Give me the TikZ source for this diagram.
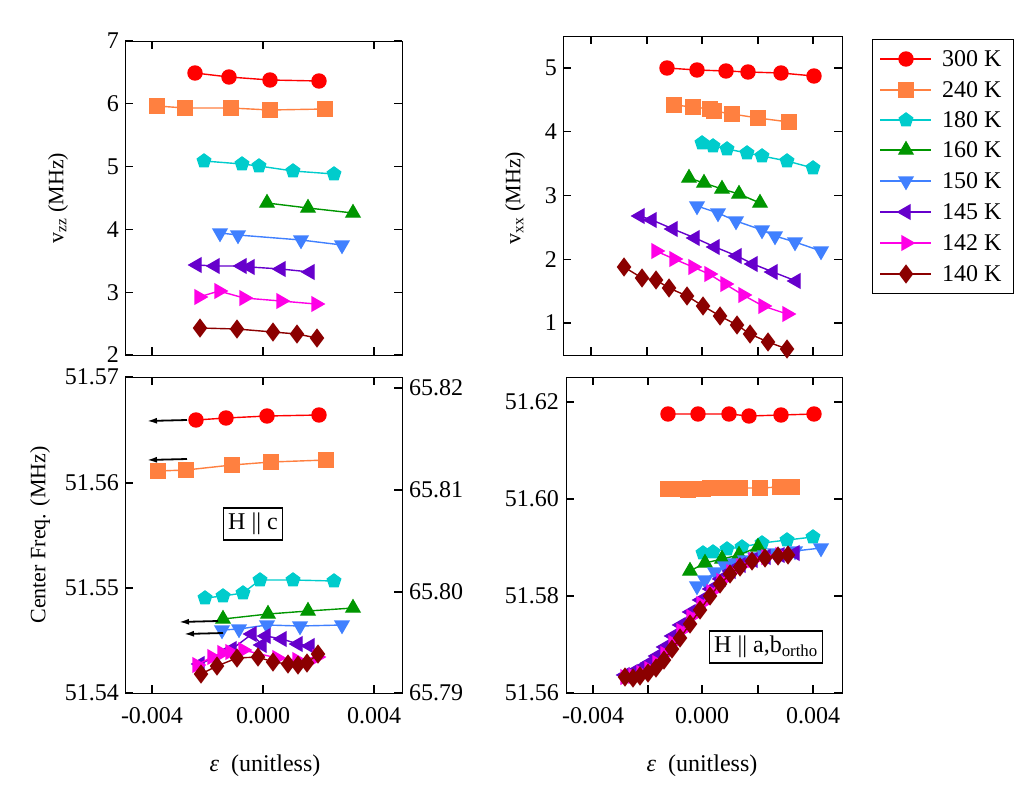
\documentclass[tikz,border=0pt]{standalone}
\usepackage{fontspec}
\setmainfont{Liberation Serif}
\usetikzlibrary{plotmarks,arrows.meta}
\definecolor{cA}{RGB}{255,0,0}
\definecolor{cB}{RGB}{255,128,64}
\definecolor{cC}{RGB}{0,204,204}
\definecolor{cD}{RGB}{0,150,0}
\definecolor{cE}{RGB}{64,128,255}
\definecolor{cF}{RGB}{102,0,204}
\definecolor{cG}{RGB}{255,0,230}
\definecolor{cH}{RGB}{139,0,0}
\tikzset{
 sA/.style={cA,line width=1.4pt,mark=*,mark size=7pt,mark options={solid}},
 sB/.style={cB,line width=1.4pt,mark=square*,mark size=7pt},
 sC/.style={cC,line width=1.4pt,mark=pentagon*,mark size=7pt},
 sD/.style={cD,line width=1.4pt,mark=triangle*,mark size=8pt},
 sE/.style={cE,line width=1.4pt,mark=triangle*,mark size=8pt,mark options={rotate=180}},
 sF/.style={cF,line width=1.4pt,mark=triangle*,mark size=8pt,mark options={rotate=90}},
 sG/.style={cG,line width=1.4pt,mark=triangle*,mark size=8pt,mark options={rotate=-90}},
 sH/.style={cH,line width=1.4pt,mark=diamond*,mark size=8.5pt},
 frame/.style={line width=1.4pt},
 tk/.style={line width=1.2pt},
 lbl/.style={font=\fontsize{24}{27}\selectfont,inner sep=0pt},
 albl/.style={font=\fontsize{22}{25}\selectfont,inner sep=0pt},
 arr/.style={-{Latex[length=10pt,width=6pt]},line width=1.8pt,black},
}
\begin{document}
\begin{tikzpicture}[x=1pt,y=-1pt]
\useasboundingbox (0,0) rectangle (1023,785);
% ---------- TL ----------
\node[frame,draw,minimum width=277pt,minimum height=314pt,inner sep=0pt,anchor=north west] (tl) at (125,41) {};
\foreach \v in {2,...,7}{\draw[tk] (125,{355-62.8*(\v-2)}) -- ++(8,0) (402,{355-62.8*(\v-2)}) -- ++(-8,0);
 \node[lbl,anchor=east] at (119,{355-62.8*(\v-2)}) {\v};}
\foreach \x in {152,263,374}{\draw[tk] (\x,355) -- ++(0,-8) (\x,41) -- ++(0,8);}
\node[albl,rotate=90] (ylt) at (58,198) {v\textsubscript{zz} (MHz)};
\draw[sA] plot coordinates {(195,73)(229,77)(270,80)(319,81)};
\draw[sB] plot coordinates {(157,106)(185,108)(231,108)(270,110)(325,109)};
\draw[sC] plot coordinates {(204,161)(242,164)(259,166)(293,171)(334,174)};
\draw[sD] plot coordinates {(267,203)(308,208)(353,213)};
\draw[sE] plot coordinates {(220,233)(238,235)(301,240)(342,245)};
\draw[sF] plot coordinates {(197,265)(215,266)(242,266)(250,267)(281,269)(310,272)};
\draw[sG] plot coordinates {(199,297)(219,291)(244,298)(281,301)(316,304)};
\draw[sH] plot coordinates {(200,328)(237,329)(273,332)(297,334)(317,338)};
% ---------- TR ----------
\node[frame,draw,minimum width=279pt,minimum height=319pt,inner sep=0pt,anchor=north west] (tr) at (563,36) {};
\foreach \v in {1,...,5}{\draw[tk] (563,{323-63.75*(\v-1)}) -- ++(8,0) (842,{323-63.75*(\v-1)}) -- ++(-8,0);
 \node[lbl,anchor=east] at (557,{323-63.75*(\v-1)}) {\v};}
\foreach \x in {591,647,702,758,813}{\draw[tk] (\x,355) -- ++(0,-8) (\x,36) -- ++(0,8);}
\node[albl,rotate=90] (yrt) at (515,198) {v\textsubscript{xx} (MHz)};
\draw[sA] plot coordinates {(667,68)(697,70)(726,71)(748,72)(781,73)(814,76)};
\draw[sB] plot coordinates {(674,105)(693,107)(710,109)(714,111)(732,114)(758,118)(789,122)};
\draw[sC] plot coordinates {(702,143)(713,146)(727,149)(747,153)(762,156)(787,161)(813,168)};
\draw[sD] plot coordinates {(689,178)(704,183)(722,189)(739,194)(760,203)};
\draw[sE] plot coordinates {(697,206)(718,213)(736,221)(762,230)(775,236)(795,242)(821,251)};
\draw[sF] plot coordinates {(640,216)(652,220)(673,229)(695,238)(715,247)(737,256)(753,264)(773,272)(796,281)};
\draw[sG] plot coordinates {(656,251)(674,259)(693,267)(709,274)(725,284)(743,295)(763,306)(787,314)};
\draw[sH] plot coordinates {(624,267)(642,278)(656,280)(669,288)(687,296)(703,306)(720,316)(737,325)(750,334)(768,342)(787,349)};
% ---------- BL ----------
\node[frame,draw,minimum width=277pt,minimum height=316pt,inner sep=0pt,anchor=north west] (bl) at (125,377) {};
\foreach \y/\t in {377/51.57,483/51.56,588/51.55,693/51.54}{\draw[tk] (125,\y) -- ++(8,0);
 \node[lbl,anchor=east] at (119,\y) {\t};}
\foreach \y/\t in {388/65.82,490/65.81,592/65.80,693/65.79}{\draw[tk] (402,\y) -- ++(-8,0);
 \node[lbl,anchor=west] at (409,\y) {\t};}
\foreach \x/\t in {152/-0.004,263/0.000,374/0.004}{\draw[tk] (\x,693) -- ++(0,-8) (\x,377) -- ++(0,8);
 \node[lbl] at (\x,716) {\t};}
\node[albl,rotate=90] (ylb) at (40,535) {Center Freq. (MHz)};
\node[lbl] (xl1) at (265,766) {\itshape ε\upshape\ \ (unitless)};
\node[lbl,draw,line width=1.2pt,inner sep=5pt] (hc) at (253,524) {H || c};
\draw[sA] plot coordinates {(196,420)(226,418)(267,416)(319,415)};
\draw[sB] plot coordinates {(158,471)(186,470)(232,465)(271,462)(326,460)};
\draw[sC] plot coordinates {(205,598)(223,596)(243,593)(260,580)(293,580)(334,581)};
\draw[sD] plot coordinates {(223,619)(268,614)(308,611)(353,608)};
\draw[sE] plot coordinates {(222,630)(239,629)(267,625)(300,626)(342,625)};
\draw[sF] plot coordinates {(200,664)(232,649)(252,634)(262,645)(266,636)(282,639)(298,644)(310,646)};
\draw[sG] plot coordinates {(197,665)(212,657)(222,653)(230,652)(243,650)(277,658)(297,660)(317,657)};
\draw[sH] plot coordinates {(201,674)(217,666)(237,658)(258,657)(273,662)(288,664)(298,665)(307,663)(318,654)};
\coordinate (a1s) at (187,420); \coordinate (a1e) at (147,421);
\coordinate (a2s) at (187,459); \coordinate (a2e) at (147,460);
\coordinate (a3s) at (218,621); \coordinate (a3e) at (179,622);
\coordinate (a4s) at (223,633); \coordinate (a4e) at (184,634);
\draw[arr] (a1s) -- (a1e); \draw[arr] (a2s) -- (a2e);
\draw[arr] (a3s) -- (a3e); \draw[arr] (a4s) -- (a4e);
% ---------- BR ----------
\node[frame,draw,minimum width=276pt,minimum height=316pt,inner sep=0pt,anchor=north west] (br) at (566,377) {};
\foreach \y/\t in {402/51.62,499/51.60,596/51.58,693/51.56}{\draw[tk] (566,\y) -- ++(8,0) (842,\y) -- ++(-8,0);
 \node[lbl,anchor=east] at (559,\y) {\t};}
\foreach \x in {593,648,702,758,813}{\draw[tk] (\x,693) -- ++(0,-8) (\x,377) -- ++(0,8);}
\foreach \x/\t in {593/-0.004,702/0.000,813/0.004}{\node[lbl] at (\x,716) {\t};}
\node[lbl] (xl2) at (702,766) {\itshape ε\upshape\ \ (unitless)};
\draw[sA] plot coordinates {(668,414)(698,414)(729,414)(749,416)(781,415)(814,414)};
\draw[sB] plot coordinates {(668,489)(680,489)(688,490)(695,489)(703,489)(710,488)(718,488)(732,488)(740,488)(760,488)(780,487)(792,487)};
\draw[sC] plot coordinates {(703,553)(713,552)(727,549)(742,547)(762,543)(787,540)(813,537)};
\draw[sD] plot coordinates {(690,571)(705,563)(722,559)(739,555)(758,547)};
\draw[sE] plot coordinates {(697,586)(705,580)(715,572)(725,566)(735,563)(745,560)(755,557)(765,555)(775,553)(795,551)(821,548)};
\draw[sF] plot coordinates {(625,675)(633,672)(641,668)(649,663)(657,656)(665,647)(673,636)(681,625)(691,612)(701,600)(711,589)(721,579)(731,571)(741,565)(753,560)(766,557)(780,555)(795,553)};
\draw[sG] plot coordinates {(625,677)(633,676)(641,673)(649,669)(657,663)(665,654)(673,643)(681,631)(691,617)(701,604)(711,592)(721,581)(731,572)(741,566)(753,560)(766,557)(780,555)};
\draw[sH] plot coordinates {(625,677)(633,678)(640,676)(648,673)(656,668)(664,660)(672,649)(680,638)(690,624)(700,610)(710,596)(720,584)(730,574)(740,567)(752,561)(765,558)(778,556)(788,555)};
\node[lbl,draw,line width=1.2pt,fill=white,inner sep=5pt] (hab) at (766,647) {H || a,b\textsubscript{ortho}};
% ---------- legend ----------
\node[draw,line width=1.2pt,minimum width=141pt,minimum height=254pt,inner sep=0pt,anchor=north west] (leg) at (872,39) {};
\foreach \s/\y/\t in {sA/59/300,sB/90/240,sC/120/180,sD/150/160,sE/181/150,sF/212/145,sG/243/142,sH/274/140}{
 \draw[\s] (880,\y) -- (931,\y);
 \draw[\s] plot coordinates {(906,\y)};
 \node[lbl,anchor=west] at (942,\y) {\t\ K};}
\end{tikzpicture}
\end{document}
